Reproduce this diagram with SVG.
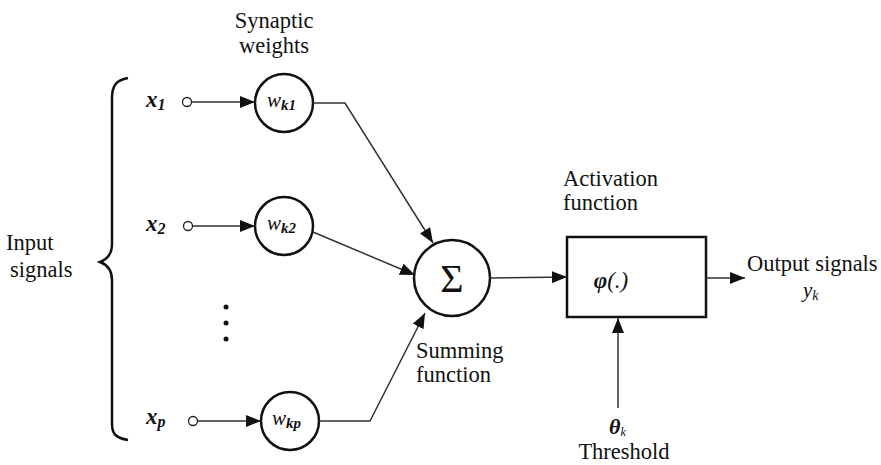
<svg xmlns="http://www.w3.org/2000/svg" width="881" height="465" viewBox="0 0 881 465">
<style>
  text { font-family: "Liberation Serif", "DejaVu Serif", serif; fill: #111; }
  .lbl { font-size: 22.5px; }
  .it { font-style: italic; }
  .node { fill: #fff; stroke: #111; stroke-width: 2.5; }
  .in { fill: #fff; stroke: #222; stroke-width: 1.3; }
  .con { fill: none; stroke: #333; stroke-width: 1.5; }
</style>
<defs>
  <marker id="arr" markerUnits="userSpaceOnUse" markerWidth="16" markerHeight="12" refX="15" refY="6" orient="auto">
    <path d="M0,0 L15,6 L0,12 z" fill="#111"/>
  </marker>
</defs>
<rect width="881" height="465" fill="#fff"/>

<g id="brace">
  <path d="M128,78 C116,80 112,86 112,98 L112,244 C112,254 108,259 100,262 C108,265 112,270 112,280 L112,424 C112,434 116,438 128,440" fill="none" stroke="#111" stroke-width="2.5"/>
  <text class="lbl" x="6" y="250">Input</text>
  <text class="lbl" x="10" y="277">signals</text>
</g>

<g id="synaptic-label">
  <text class="lbl" x="274" y="28" text-anchor="middle">Synaptic</text>
  <text class="lbl" x="274" y="53" text-anchor="middle">weights</text>
</g>

<g id="x1">
  <text class="it" x="146" y="107" font-size="23" font-weight="bold">x<tspan font-size="16" dy="3">1</tspan></text>
  <circle class="in" cx="187" cy="102" r="4.5"/>
</g>
<g id="x2">
  <text class="it" x="146" y="231" font-size="23" font-weight="bold">x<tspan font-size="16" dy="3">2</tspan></text>
  <circle class="in" cx="188" cy="226" r="4.5"/>
</g>
<g id="xp">
  <text class="it" x="146" y="424" font-size="23" font-weight="bold">x<tspan font-size="16" dy="3">p</tspan></text>
  <circle class="in" cx="193" cy="421" r="4.5"/>
</g>

<g id="dots">
  <circle cx="226" cy="307" r="2.5" fill="#111"/>
  <circle cx="226" cy="323" r="2.5" fill="#111"/>
  <circle cx="226" cy="339" r="2.5" fill="#111"/>
</g>

<g id="wk1">
  <circle class="node" cx="284" cy="103" r="29"/>
  <text class="it" x="267" y="107" font-size="21">w<tspan font-size="15" font-weight="bold" dy="3">k1</tspan></text>
</g>
<g id="wk2">
  <circle class="node" cx="284" cy="226" r="29"/>
  <text class="it" x="267" y="230" font-size="21">w<tspan font-size="15" font-weight="bold" dy="3">k2</tspan></text>
</g>
<g id="wkp">
  <circle class="node" cx="290" cy="421" r="29"/>
  <text class="it" x="272" y="425" font-size="21">w<tspan font-size="15" font-weight="bold" dy="3">kp</tspan></text>
</g>

<g id="sum">
  <circle class="node" cx="452" cy="278" r="38"/>
  <text x="452" y="292" text-anchor="middle" font-size="40">Σ</text>
  <text class="lbl" x="416" y="358">Summing</text>
  <text class="lbl" x="416" y="382">function</text>
</g>

<g id="activation">
  <rect x="567" y="237" width="139" height="80" fill="#fff" stroke="#111" stroke-width="2.5"/>
  <text class="it" x="611" y="288" font-size="23" text-anchor="middle"><tspan font-weight="bold">φ</tspan>(.)</text>
  <text class="lbl" x="563" y="186">Activation</text>
  <text class="lbl" x="563" y="210">function</text>
</g>

<g id="output">
  <text class="lbl" x="747" y="271">Output signals</text>
  <text class="it" x="803" y="297" font-size="21">y<tspan font-size="14" dy="3">k</tspan></text>
</g>

<g id="threshold">
  <text class="it" x="609" y="434" font-size="22" font-weight="bold">θ<tspan font-size="12" font-weight="normal" dy="2">k</tspan></text>
  <text class="lbl" x="624" y="459" text-anchor="middle">Threshold</text>
</g>

<g id="connectors">
  <line class="con" x1="192" y1="102" x2="255" y2="102" marker-end="url(#arr)"/>
  <line class="con" x1="193" y1="226" x2="255" y2="226" marker-end="url(#arr)"/>
  <line class="con" x1="198" y1="421" x2="261" y2="421" marker-end="url(#arr)"/>
  <polyline class="con" points="313,103 345,103 433,243" marker-end="url(#arr)"/>
  <line class="con" x1="313" y1="232" x2="415" y2="275" marker-end="url(#arr)"/>
  <polyline class="con" points="319,421 370,421 425,313" marker-end="url(#arr)"/>
  <line class="con" x1="490" y1="278" x2="567" y2="277" marker-end="url(#arr)"/>
  <line class="con" x1="706" y1="278" x2="745" y2="278" marker-end="url(#arr)"/>
  <line class="con" x1="618" y1="408" x2="618" y2="318" marker-end="url(#arr)"/>
</g>
</svg>
